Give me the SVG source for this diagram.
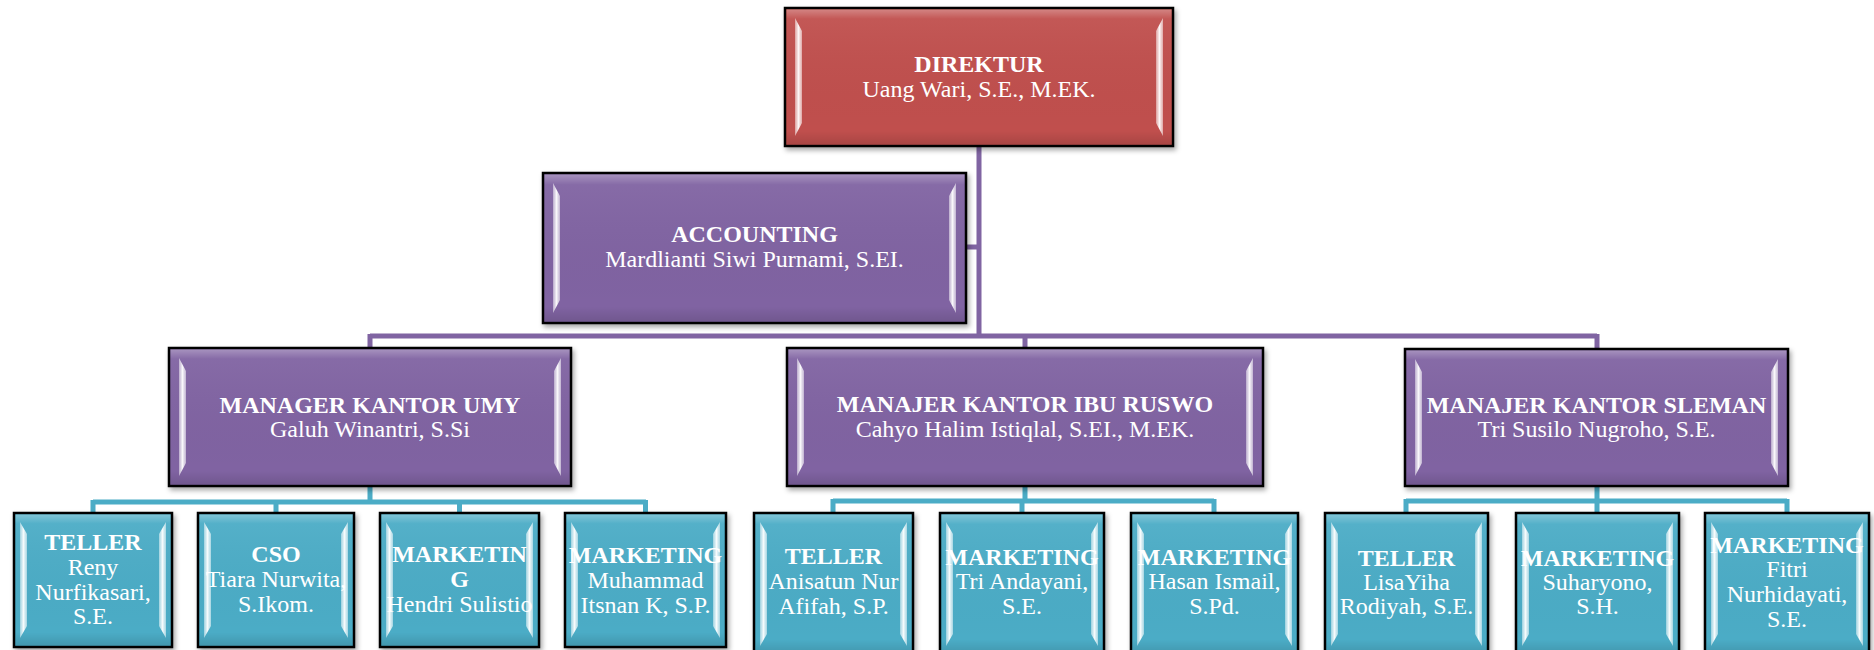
<svg xmlns="http://www.w3.org/2000/svg" width="1874" height="650" viewBox="0 0 1874 650">
<defs>
<filter id="sh" x="-10%" y="-10%" width="120%" height="130%">
<feDropShadow dx="2" dy="3" stdDeviation="2.5" flood-color="#000" flood-opacity="0.35"/>
</filter>
<linearGradient id="stripGrad" x1="0" y1="0" x2="1" y2="0">
<stop offset="0" stop-color="#fff" stop-opacity="0.45"/>
<stop offset="0.5" stop-color="#fff" stop-opacity="0.95"/>
<stop offset="1" stop-color="#fff" stop-opacity="0.5"/>
</linearGradient>
<linearGradient id="shade" x1="0" y1="0" x2="0" y2="1">
<stop offset="0" stop-color="#fff" stop-opacity="0.3"/>
<stop offset="0.07" stop-color="#fff" stop-opacity="0.05"/>
<stop offset="0.9" stop-color="#000" stop-opacity="0"/>
<stop offset="1" stop-color="#000" stop-opacity="0.12"/>
</linearGradient>
</defs>
<style>
.box{stroke:#000;stroke-width:2.5;filter:url(#sh)}
.red{fill:#C0504D}
.pur{fill:#8064A2}
.teal{fill:#4BACC6}
.shade{fill:url(#shade)}
.strip{fill:url(#stripGrad)}
.t{font-family:"Liberation Serif","Times New Roman",serif;font-size:24px;fill:#fff;text-anchor:middle}
.b{font-weight:bold}
.cp{stroke:#8064A2;stroke-width:5;fill:none}
.ct{stroke:#4BACC6;stroke-width:5;fill:none}
</style>

<g id="connectors">
<path class="cp" d="M979 146V336M966 247H979M370 336H1597M370 334V349M1025 336V349M1597 334V350"/>
<path class="ct" d="M370 486V502M93 502H646M93 500V514M276 502V514M459.5 502V514M645.5 500V514"/>
<path class="ct" d="M1025 486V501M833 501H1214M833 499V514M1022 501V514M1214 499V514"/>
<path class="ct" d="M1597 486V501M1406 501H1787M1406 499V514M1597 501V514M1787 499V514"/>
</g>

<g id="n-direktur">
<rect class="box red" x="785" y="8" width="388" height="138"/>
<rect class="shade" x="786.5" y="9.5" width="385" height="135"/>
<polygon class="strip" points="795,18 802,31 802,123 795,136"/>
<polygon class="strip" points="1163,18 1156,31 1156,123 1163,136"/>
<text class="t b" x="979" y="72">DIREKTUR</text>
<text class="t" x="979" y="97">Uang Wari, S.E., M.EK.</text>
</g>

<g id="n-accounting">
<rect class="box pur" x="543" y="173" width="423" height="150"/>
<rect class="shade" x="544.5" y="174.5" width="420" height="147"/>
<polygon class="strip" points="553,183 560,196 560,300 553,313"/>
<polygon class="strip" points="956,183 949,196 949,300 956,313"/>
<text class="t b" x="754.5" y="242">ACCOUNTING</text>
<text class="t" x="754.5" y="267">Mardlianti Siwi Purnami, S.EI.</text>
</g>

<g id="n-umy">
<rect class="box pur" x="169" y="348" width="402" height="138"/>
<rect class="shade" x="170.5" y="349.5" width="399" height="135"/>
<polygon class="strip" points="179,358 186,371 186,463 179,476"/>
<polygon class="strip" points="561,358 554,371 554,463 561,476"/>
<text class="t b" x="370" y="413">MANAGER KANTOR UMY</text>
<text class="t" x="370" y="437">Galuh Winantri, S.Si</text>
</g>

<g id="n-ruswo">
<rect class="box pur" x="787" y="348" width="476" height="138"/>
<rect class="shade" x="788.5" y="349.5" width="473" height="135"/>
<polygon class="strip" points="797,358 804,371 804,463 797,476"/>
<polygon class="strip" points="1253,358 1246,371 1246,463 1253,476"/>
<text class="t b" x="1025" y="412">MANAJER KANTOR IBU RUSWO</text>
<text class="t" x="1025" y="437">Cahyo Halim Istiqlal, S.EI., M.EK.</text>
</g>

<g id="n-sleman">
<rect class="box pur" x="1405" y="349" width="383" height="137"/>
<rect class="shade" x="1406.5" y="350.5" width="380" height="134"/>
<polygon class="strip" points="1415,359 1422,372 1422,463 1415,476"/>
<polygon class="strip" points="1778,359 1771,372 1771,463 1778,476"/>
<text class="t b" x="1596.5" y="413">MANAJER KANTOR SLEMAN</text>
<text class="t" x="1596.5" y="437">Tri Susilo Nugroho, S.E.</text>
</g>

<g id="n-teller-reny">
<rect class="box teal" x="14" y="513" width="158" height="134"/>
<rect class="shade" x="15.5" y="514.5" width="155" height="131"/>
<polygon class="strip" points="20,522 27,534 27,626 20,638"/>
<polygon class="strip" points="166,522 159,534 159,626 166,638"/>
<text class="t b" x="93" y="550">TELLER</text>
<text class="t" x="93" y="575">Reny</text>
<text class="t" x="93" y="600">Nurfikasari,</text>
<text class="t" x="93" y="624">S.E.</text>
</g>

<g id="n-cso">
<rect class="box teal" x="198" y="513" width="156" height="134"/>
<rect class="shade" x="199.5" y="514.5" width="153" height="131"/>
<polygon class="strip" points="204,522 211,534 211,626 204,638"/>
<polygon class="strip" points="348,522 341,534 341,626 348,638"/>
<text class="t b" x="276" y="562">CSO</text>
<text class="t" x="276" y="587">Tiara Nurwita,</text>
<text class="t" x="276" y="612">S.Ikom.</text>
</g>

<g id="n-marketing-hendri">
<rect class="box teal" x="380" y="513" width="159" height="134"/>
<rect class="shade" x="381.5" y="514.5" width="156" height="131"/>
<polygon class="strip" points="386,522 393,534 393,626 386,638"/>
<polygon class="strip" points="533,522 526,534 526,626 533,638"/>
<text class="t b" x="459.5" y="562">MARKETIN</text>
<text class="t b" x="459.5" y="587">G</text>
<text class="t" x="459.5" y="612">Hendri Sulistio</text>
</g>

<g id="n-marketing-muhammad">
<rect class="box teal" x="565" y="513" width="161" height="134"/>
<rect class="shade" x="566.5" y="514.5" width="158" height="131"/>
<polygon class="strip" points="571,522 578,534 578,626 571,638"/>
<polygon class="strip" points="720,522 713,534 713,626 720,638"/>
<text class="t b" x="645.5" y="563">MARKETING</text>
<text class="t" x="645.5" y="588">Muhammad</text>
<text class="t" x="645.5" y="613">Itsnan K, S.P.</text>
</g>

<g id="n-teller-anisatun">
<rect class="box teal" x="754" y="513" width="159" height="142"/>
<rect class="shade" x="755.5" y="514.5" width="156" height="139"/>
<polygon class="strip" points="760,522 767,534 767,634 760,646"/>
<polygon class="strip" points="907,522 900,534 900,634 907,646"/>
<text class="t b" x="833.5" y="564">TELLER</text>
<text class="t" x="833.5" y="589">Anisatun Nur</text>
<text class="t" x="833.5" y="614">Afifah, S.P.</text>
</g>

<g id="n-marketing-tri">
<rect class="box teal" x="940" y="513" width="164" height="142"/>
<rect class="shade" x="941.5" y="514.5" width="161" height="139"/>
<polygon class="strip" points="946,522 953,534 953,634 946,646"/>
<polygon class="strip" points="1098,522 1091,534 1091,634 1098,646"/>
<text class="t b" x="1022" y="565">MARKETING</text>
<text class="t" x="1022" y="589">Tri Andayani,</text>
<text class="t" x="1022" y="614">S.E.</text>
</g>

<g id="n-marketing-hasan">
<rect class="box teal" x="1131" y="513" width="167" height="142"/>
<rect class="shade" x="1132.5" y="514.5" width="164" height="139"/>
<polygon class="strip" points="1137,522 1144,534 1144,634 1137,646"/>
<polygon class="strip" points="1292,522 1285,534 1285,634 1292,646"/>
<text class="t b" x="1214.5" y="565">MARKETING</text>
<text class="t" x="1214.5" y="589">Hasan Ismail,</text>
<text class="t" x="1214.5" y="614">S.Pd.</text>
</g>

<g id="n-teller-lisa">
<rect class="box teal" x="1325" y="513" width="163" height="142"/>
<rect class="shade" x="1326.5" y="514.5" width="160" height="139"/>
<polygon class="strip" points="1331,522 1338,534 1338,634 1331,646"/>
<polygon class="strip" points="1482,522 1475,534 1475,634 1482,646"/>
<text class="t b" x="1406.5" y="566">TELLER</text>
<text class="t" x="1406.5" y="590">LisaYiha</text>
<text class="t" x="1406.5" y="614">Rodiyah, S.E.</text>
</g>

<g id="n-marketing-suharyono">
<rect class="box teal" x="1516" y="513" width="163" height="142"/>
<rect class="shade" x="1517.5" y="514.5" width="160" height="139"/>
<polygon class="strip" points="1522,522 1529,534 1529,634 1522,646"/>
<polygon class="strip" points="1673,522 1666,534 1666,634 1673,646"/>
<text class="t b" x="1597.5" y="566">MARKETING</text>
<text class="t" x="1597.5" y="590">Suharyono,</text>
<text class="t" x="1597.5" y="614">S.H.</text>
</g>

<g id="n-marketing-fitri">
<rect class="box teal" x="1705" y="513" width="164" height="142"/>
<rect class="shade" x="1706.5" y="514.5" width="161" height="139"/>
<polygon class="strip" points="1711,522 1718,534 1718,634 1711,646"/>
<polygon class="strip" points="1863,522 1856,534 1856,634 1863,646"/>
<text class="t b" x="1787" y="553">MARKETING</text>
<text class="t" x="1787" y="577">Fitri</text>
<text class="t" x="1787" y="602">Nurhidayati,</text>
<text class="t" x="1787" y="627">S.E.</text>
</g>
</svg>
